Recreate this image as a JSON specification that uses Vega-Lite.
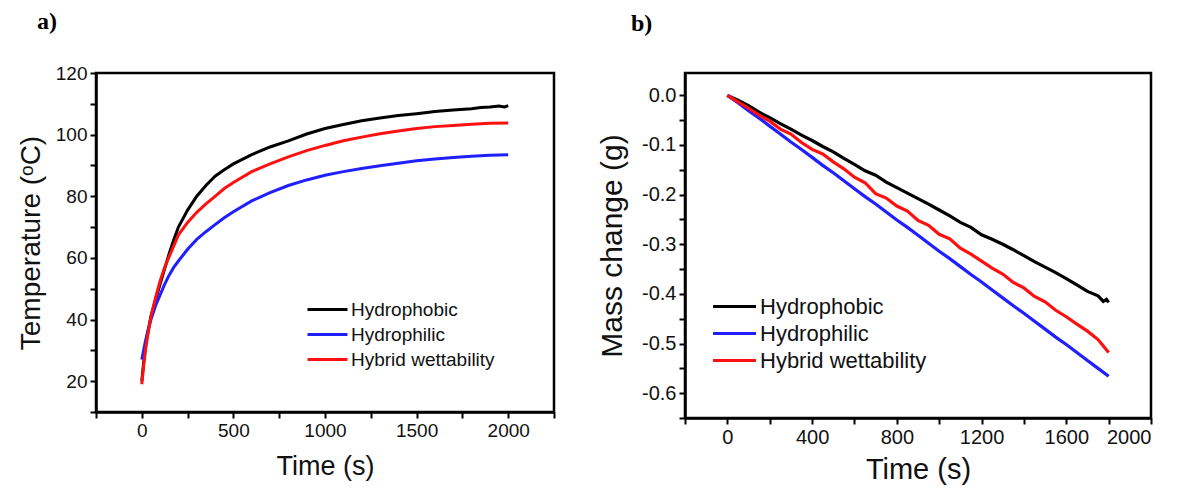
{
  "$schema": "https://vega.github.io/schema/vega-lite/v6.json",
  "background": "white",
  "padding": {"left": 16, "top": 8, "right": 5, "bottom": 5},
  "spacing": 39,
  "config": {
    "view": {"stroke": "black", "strokeWidth": 2.5},
    "axis": {
      "grid": false,
      "domainColor": "black",
      "domainWidth": 2.5,
      "tickColor": "black",
      "tickWidth": 2,
      "tickSize": 6,
      "labelColor": "#111111",
      "titleColor": "#111111",
      "labelFont": "Liberation Sans",
      "titleFont": "Liberation Sans",
      "titleFontWeight": "normal",
      "labelPadding": 3
    },
    "legend": {
      "orient": "none",
      "direction": "vertical",
      "title": null,
      "padding": 0,
      "labelFont": "Liberation Sans",
      "labelColor": "#111111",
      "labelLimit": 400,
      "symbolStrokeWidth": 3,
      "symbolOpacity": 1
    },
    "title": {
      "font": "Liberation Serif",
      "fontWeight": "bold",
      "fontSize": 24,
      "anchor": "start",
      "frame": "group",
      "color": "black"
    }
  },
  "datasets": {
    "temperature": [
      {"series": "Hydrophobic", "t": 0, "v": 20},
      {"series": "Hydrophobic", "t": 10, "v": 26},
      {"series": "Hydrophobic", "t": 20, "v": 31},
      {"series": "Hydrophobic", "t": 30, "v": 35},
      {"series": "Hydrophobic", "t": 50, "v": 41},
      {"series": "Hydrophobic", "t": 75, "v": 46.5},
      {"series": "Hydrophobic", "t": 100, "v": 51.5},
      {"series": "Hydrophobic", "t": 125, "v": 56.5},
      {"series": "Hydrophobic", "t": 150, "v": 61.5},
      {"series": "Hydrophobic", "t": 175, "v": 66},
      {"series": "Hydrophobic", "t": 200, "v": 70},
      {"series": "Hydrophobic", "t": 250, "v": 75.5},
      {"series": "Hydrophobic", "t": 300, "v": 80},
      {"series": "Hydrophobic", "t": 350, "v": 83.5},
      {"series": "Hydrophobic", "t": 400, "v": 86.5},
      {"series": "Hydrophobic", "t": 450, "v": 88.6},
      {"series": "Hydrophobic", "t": 500, "v": 90.5},
      {"series": "Hydrophobic", "t": 600, "v": 93.5},
      {"series": "Hydrophobic", "t": 700, "v": 96},
      {"series": "Hydrophobic", "t": 800, "v": 98},
      {"series": "Hydrophobic", "t": 900, "v": 100.2},
      {"series": "Hydrophobic", "t": 1000, "v": 102},
      {"series": "Hydrophobic", "t": 1100, "v": 103.3},
      {"series": "Hydrophobic", "t": 1200, "v": 104.5},
      {"series": "Hydrophobic", "t": 1300, "v": 105.4},
      {"series": "Hydrophobic", "t": 1400, "v": 106.2},
      {"series": "Hydrophobic", "t": 1500, "v": 106.8},
      {"series": "Hydrophobic", "t": 1600, "v": 107.5},
      {"series": "Hydrophobic", "t": 1700, "v": 108},
      {"series": "Hydrophobic", "t": 1800, "v": 108.4},
      {"series": "Hydrophobic", "t": 1850, "v": 108.8},
      {"series": "Hydrophobic", "t": 1900, "v": 109},
      {"series": "Hydrophobic", "t": 1950, "v": 109.3},
      {"series": "Hydrophobic", "t": 1980, "v": 109},
      {"series": "Hydrophobic", "t": 2000, "v": 109.4},
      {"series": "Hydrophilic", "t": 0, "v": 27},
      {"series": "Hydrophilic", "t": 10, "v": 30},
      {"series": "Hydrophilic", "t": 20, "v": 33},
      {"series": "Hydrophilic", "t": 30, "v": 35.5},
      {"series": "Hydrophilic", "t": 50, "v": 40},
      {"series": "Hydrophilic", "t": 75, "v": 44.5},
      {"series": "Hydrophilic", "t": 100, "v": 48},
      {"series": "Hydrophilic", "t": 125, "v": 51.5},
      {"series": "Hydrophilic", "t": 150, "v": 54.5},
      {"series": "Hydrophilic", "t": 175, "v": 57},
      {"series": "Hydrophilic", "t": 200, "v": 59},
      {"series": "Hydrophilic", "t": 250, "v": 62.8},
      {"series": "Hydrophilic", "t": 300, "v": 66},
      {"series": "Hydrophilic", "t": 350, "v": 68.5},
      {"series": "Hydrophilic", "t": 400, "v": 70.8},
      {"series": "Hydrophilic", "t": 450, "v": 73},
      {"series": "Hydrophilic", "t": 500, "v": 75},
      {"series": "Hydrophilic", "t": 600, "v": 78.5},
      {"series": "Hydrophilic", "t": 700, "v": 81.2},
      {"series": "Hydrophilic", "t": 800, "v": 83.5},
      {"series": "Hydrophilic", "t": 900, "v": 85.3},
      {"series": "Hydrophilic", "t": 1000, "v": 86.8},
      {"series": "Hydrophilic", "t": 1100, "v": 88},
      {"series": "Hydrophilic", "t": 1200, "v": 89},
      {"series": "Hydrophilic", "t": 1300, "v": 89.9},
      {"series": "Hydrophilic", "t": 1400, "v": 90.7},
      {"series": "Hydrophilic", "t": 1500, "v": 91.5},
      {"series": "Hydrophilic", "t": 1600, "v": 92.1},
      {"series": "Hydrophilic", "t": 1700, "v": 92.6},
      {"series": "Hydrophilic", "t": 1800, "v": 93},
      {"series": "Hydrophilic", "t": 1900, "v": 93.3},
      {"series": "Hydrophilic", "t": 2000, "v": 93.5},
      {"series": "Hybrid wettability", "t": 0, "v": 19},
      {"series": "Hybrid wettability", "t": 10, "v": 25},
      {"series": "Hybrid wettability", "t": 20, "v": 30},
      {"series": "Hybrid wettability", "t": 30, "v": 34},
      {"series": "Hybrid wettability", "t": 50, "v": 41},
      {"series": "Hybrid wettability", "t": 75, "v": 47},
      {"series": "Hybrid wettability", "t": 100, "v": 52.5},
      {"series": "Hybrid wettability", "t": 125, "v": 57},
      {"series": "Hybrid wettability", "t": 150, "v": 60.5},
      {"series": "Hybrid wettability", "t": 175, "v": 64},
      {"series": "Hybrid wettability", "t": 200, "v": 67.5},
      {"series": "Hybrid wettability", "t": 250, "v": 71.5},
      {"series": "Hybrid wettability", "t": 300, "v": 74.8},
      {"series": "Hybrid wettability", "t": 350, "v": 77.5},
      {"series": "Hybrid wettability", "t": 400, "v": 80},
      {"series": "Hybrid wettability", "t": 450, "v": 82.5},
      {"series": "Hybrid wettability", "t": 500, "v": 84.5},
      {"series": "Hybrid wettability", "t": 600, "v": 88},
      {"series": "Hybrid wettability", "t": 700, "v": 90.5},
      {"series": "Hybrid wettability", "t": 800, "v": 92.8},
      {"series": "Hybrid wettability", "t": 900, "v": 94.8},
      {"series": "Hybrid wettability", "t": 1000, "v": 96.5},
      {"series": "Hybrid wettability", "t": 1100, "v": 98},
      {"series": "Hybrid wettability", "t": 1200, "v": 99.2},
      {"series": "Hybrid wettability", "t": 1300, "v": 100.3},
      {"series": "Hybrid wettability", "t": 1400, "v": 101.2},
      {"series": "Hybrid wettability", "t": 1500, "v": 102},
      {"series": "Hybrid wettability", "t": 1600, "v": 102.6},
      {"series": "Hybrid wettability", "t": 1700, "v": 103},
      {"series": "Hybrid wettability", "t": 1800, "v": 103.4},
      {"series": "Hybrid wettability", "t": 1900, "v": 103.7},
      {"series": "Hybrid wettability", "t": 2000, "v": 103.8}
    ],
    "mass": [
      {"series": "Hydrophobic", "t": 0, "v": 0},
      {"series": "Hydrophobic", "t": 50, "v": -0.010},
      {"series": "Hydrophobic", "t": 100, "v": -0.021},
      {"series": "Hydrophobic", "t": 150, "v": -0.034},
      {"series": "Hydrophobic", "t": 200, "v": -0.045},
      {"series": "Hydrophobic", "t": 250, "v": -0.057},
      {"series": "Hydrophobic", "t": 300, "v": -0.068},
      {"series": "Hydrophobic", "t": 350, "v": -0.080},
      {"series": "Hydrophobic", "t": 400, "v": -0.091},
      {"series": "Hydrophobic", "t": 450, "v": -0.103},
      {"series": "Hydrophobic", "t": 500, "v": -0.114},
      {"series": "Hydrophobic", "t": 550, "v": -0.127},
      {"series": "Hydrophobic", "t": 600, "v": -0.139},
      {"series": "Hydrophobic", "t": 650, "v": -0.152},
      {"series": "Hydrophobic", "t": 700, "v": -0.161},
      {"series": "Hydrophobic", "t": 750, "v": -0.175},
      {"series": "Hydrophobic", "t": 800, "v": -0.186},
      {"series": "Hydrophobic", "t": 850, "v": -0.197},
      {"series": "Hydrophobic", "t": 900, "v": -0.208},
      {"series": "Hydrophobic", "t": 950, "v": -0.219},
      {"series": "Hydrophobic", "t": 1000, "v": -0.231},
      {"series": "Hydrophobic", "t": 1050, "v": -0.243},
      {"series": "Hydrophobic", "t": 1100, "v": -0.256},
      {"series": "Hydrophobic", "t": 1150, "v": -0.266},
      {"series": "Hydrophobic", "t": 1200, "v": -0.281},
      {"series": "Hydrophobic", "t": 1250, "v": -0.290},
      {"series": "Hydrophobic", "t": 1300, "v": -0.300},
      {"series": "Hydrophobic", "t": 1350, "v": -0.311},
      {"series": "Hydrophobic", "t": 1400, "v": -0.323},
      {"series": "Hydrophobic", "t": 1450, "v": -0.335},
      {"series": "Hydrophobic", "t": 1500, "v": -0.346},
      {"series": "Hydrophobic", "t": 1550, "v": -0.357},
      {"series": "Hydrophobic", "t": 1600, "v": -0.369},
      {"series": "Hydrophobic", "t": 1650, "v": -0.382},
      {"series": "Hydrophobic", "t": 1700, "v": -0.395},
      {"series": "Hydrophobic", "t": 1750, "v": -0.404},
      {"series": "Hydrophobic", "t": 1775, "v": -0.415},
      {"series": "Hydrophobic", "t": 1790, "v": -0.411},
      {"series": "Hydrophobic", "t": 1800, "v": -0.417},
      {"series": "Hydrophilic", "t": 0, "v": 0},
      {"series": "Hydrophilic", "t": 50, "v": -0.015},
      {"series": "Hydrophilic", "t": 100, "v": -0.031},
      {"series": "Hydrophilic", "t": 150, "v": -0.046},
      {"series": "Hydrophilic", "t": 200, "v": -0.062},
      {"series": "Hydrophilic", "t": 250, "v": -0.078},
      {"series": "Hydrophilic", "t": 300, "v": -0.094},
      {"series": "Hydrophilic", "t": 350, "v": -0.109},
      {"series": "Hydrophilic", "t": 400, "v": -0.125},
      {"series": "Hydrophilic", "t": 450, "v": -0.141},
      {"series": "Hydrophilic", "t": 500, "v": -0.156},
      {"series": "Hydrophilic", "t": 550, "v": -0.172},
      {"series": "Hydrophilic", "t": 600, "v": -0.188},
      {"series": "Hydrophilic", "t": 650, "v": -0.204},
      {"series": "Hydrophilic", "t": 700, "v": -0.219},
      {"series": "Hydrophilic", "t": 750, "v": -0.235},
      {"series": "Hydrophilic", "t": 800, "v": -0.251},
      {"series": "Hydrophilic", "t": 850, "v": -0.266},
      {"series": "Hydrophilic", "t": 900, "v": -0.282},
      {"series": "Hydrophilic", "t": 950, "v": -0.298},
      {"series": "Hydrophilic", "t": 1000, "v": -0.314},
      {"series": "Hydrophilic", "t": 1050, "v": -0.329},
      {"series": "Hydrophilic", "t": 1100, "v": -0.345},
      {"series": "Hydrophilic", "t": 1150, "v": -0.361},
      {"series": "Hydrophilic", "t": 1200, "v": -0.376},
      {"series": "Hydrophilic", "t": 1250, "v": -0.392},
      {"series": "Hydrophilic", "t": 1300, "v": -0.408},
      {"series": "Hydrophilic", "t": 1350, "v": -0.424},
      {"series": "Hydrophilic", "t": 1400, "v": -0.439},
      {"series": "Hydrophilic", "t": 1450, "v": -0.455},
      {"series": "Hydrophilic", "t": 1500, "v": -0.471},
      {"series": "Hydrophilic", "t": 1550, "v": -0.487},
      {"series": "Hydrophilic", "t": 1600, "v": -0.502},
      {"series": "Hydrophilic", "t": 1650, "v": -0.518},
      {"series": "Hydrophilic", "t": 1700, "v": -0.534},
      {"series": "Hydrophilic", "t": 1750, "v": -0.550},
      {"series": "Hydrophilic", "t": 1800, "v": -0.566},
      {"series": "Hybrid wettability", "t": 0, "v": 0},
      {"series": "Hybrid wettability", "t": 50, "v": -0.013},
      {"series": "Hybrid wettability", "t": 100, "v": -0.026},
      {"series": "Hybrid wettability", "t": 150, "v": -0.040},
      {"series": "Hybrid wettability", "t": 200, "v": -0.052},
      {"series": "Hybrid wettability", "t": 250, "v": -0.068},
      {"series": "Hybrid wettability", "t": 300, "v": -0.078},
      {"series": "Hybrid wettability", "t": 350, "v": -0.095},
      {"series": "Hybrid wettability", "t": 400, "v": -0.109},
      {"series": "Hybrid wettability", "t": 450, "v": -0.118},
      {"series": "Hybrid wettability", "t": 500, "v": -0.134},
      {"series": "Hybrid wettability", "t": 550, "v": -0.148},
      {"series": "Hybrid wettability", "t": 600, "v": -0.165},
      {"series": "Hybrid wettability", "t": 650, "v": -0.176},
      {"series": "Hybrid wettability", "t": 700, "v": -0.198},
      {"series": "Hybrid wettability", "t": 750, "v": -0.207},
      {"series": "Hybrid wettability", "t": 800, "v": -0.223},
      {"series": "Hybrid wettability", "t": 850, "v": -0.233},
      {"series": "Hybrid wettability", "t": 900, "v": -0.252},
      {"series": "Hybrid wettability", "t": 950, "v": -0.262},
      {"series": "Hybrid wettability", "t": 1000, "v": -0.280},
      {"series": "Hybrid wettability", "t": 1050, "v": -0.289},
      {"series": "Hybrid wettability", "t": 1100, "v": -0.308},
      {"series": "Hybrid wettability", "t": 1150, "v": -0.320},
      {"series": "Hybrid wettability", "t": 1200, "v": -0.334},
      {"series": "Hybrid wettability", "t": 1250, "v": -0.348},
      {"series": "Hybrid wettability", "t": 1300, "v": -0.360},
      {"series": "Hybrid wettability", "t": 1350, "v": -0.377},
      {"series": "Hybrid wettability", "t": 1400, "v": -0.388},
      {"series": "Hybrid wettability", "t": 1450, "v": -0.405},
      {"series": "Hybrid wettability", "t": 1500, "v": -0.416},
      {"series": "Hybrid wettability", "t": 1550, "v": -0.433},
      {"series": "Hybrid wettability", "t": 1600, "v": -0.446},
      {"series": "Hybrid wettability", "t": 1650, "v": -0.461},
      {"series": "Hybrid wettability", "t": 1700, "v": -0.475},
      {"series": "Hybrid wettability", "t": 1750, "v": -0.492},
      {"series": "Hybrid wettability", "t": 1800, "v": -0.518}
    ]
  },
  "hconcat": [
    {
      "title": {"text": "a)", "dx": -59, "offset": 30},
      "width": 458,
      "height": 339,
      "data": {"name": "temperature"},
      "mark": {"type": "line", "strokeWidth": 3, "clip": true},
      "encoding": {
        "x": {
          "field": "t",
          "type": "quantitative",
          "scale": {"domain": [-250, 2250], "nice": false, "zero": false},
          "axis": {
            "title": "Time (s)",
            "values": [-250, 0, 250, 500, 750, 1000, 1250, 1500, 1750, 2000, 2250],
            "format": "d",
            "labelExpr": "datum.value >= 0 && datum.value % 500 === 0 ? datum.label : ''",
            "labelFontSize": 19,
            "titleFontSize": 27,
            "titlePadding": 13
          }
        },
        "y": {
          "field": "v",
          "type": "quantitative",
          "scale": {"domain": [10, 120], "nice": false, "zero": false},
          "axis": {
            "title": "Temperature (ᵒC)",
            "values": [10, 20, 30, 40, 50, 60, 70, 80, 90, 100, 110, 120],
            "format": "d",
            "labelExpr": "datum.value % 20 === 0 ? datum.label : ''",
            "labelFontSize": 19,
            "titleFontSize": 28,
            "titlePadding": 10
          }
        },
        "color": {
          "field": "series",
          "type": "nominal",
          "sort": ["Hydrophobic", "Hydrophilic", "Hybrid wettability"],
          "scale": {
            "domain": ["Hydrophobic", "Hydrophilic", "Hybrid wettability"],
            "range": ["#000000", "#1f1fff", "#ff1010"]
          },
          "legend": {
            "legendX": 220,
            "legendY": 225,
            "symbolType": "M-2,0H2",
            "symbolSize": 400,
            "labelFontSize": 19,
            "labelOffset": 12,
            "rowPadding": 3
          }
        }
      }
    },
    {
      "title": {"text": "b)", "dx": -54, "offset": 37},
      "width": 466,
      "height": 345,
      "data": {"name": "mass"},
      "mark": {"type": "line", "strokeWidth": 3.2, "clip": true},
      "encoding": {
        "x": {
          "field": "t",
          "type": "quantitative",
          "scale": {"domain": [-200, 2000], "nice": false, "zero": false},
          "axis": {
            "title": "Time (s)",
            "values": [-200, 0, 200, 400, 600, 800, 1000, 1200, 1400, 1600, 1800, 2000],
            "format": "d",
            "labelExpr": "datum.value >= 0 && datum.value % 400 === 0 ? datum.label : ''",
            "labelFontSize": 20,
            "titleFontSize": 29,
            "titlePadding": 8
          }
        },
        "y": {
          "field": "v",
          "type": "quantitative",
          "scale": {"domain": [-0.65, 0.045], "nice": false, "zero": false},
          "axis": {
            "title": "Mass change (g)",
            "values": [-0.65, -0.6, -0.55, -0.5, -0.45, -0.4, -0.35, -0.3, -0.25, -0.2, -0.15, -0.1, -0.05, 0],
            "labelExpr": "abs(datum.value * 10 - round(datum.value * 10)) < 0.01 ? (datum.value < -0.001 ? '-' : '') + format(abs(datum.value), '.1f') : ''",
            "labelFontSize": 20,
            "titleFontSize": 30,
            "titlePadding": 14
          }
        },
        "color": {
          "field": "series",
          "type": "nominal",
          "sort": ["Hydrophobic", "Hydrophilic", "Hybrid wettability"],
          "scale": {
            "domain": ["Hydrophobic", "Hydrophilic", "Hybrid wettability"],
            "range": ["#000000", "#1f1fff", "#ff1010"]
          },
          "legend": {
            "legendX": 37,
            "legendY": 221,
            "symbolType": "M-2,0H2",
            "symbolSize": 462,
            "labelFontSize": 22,
            "labelOffset": 13,
            "rowPadding": 3
          }
        }
      }
    }
  ],
  "resolve": {"scale": {"color": "independent"}, "legend": {"color": "independent"}}
}
